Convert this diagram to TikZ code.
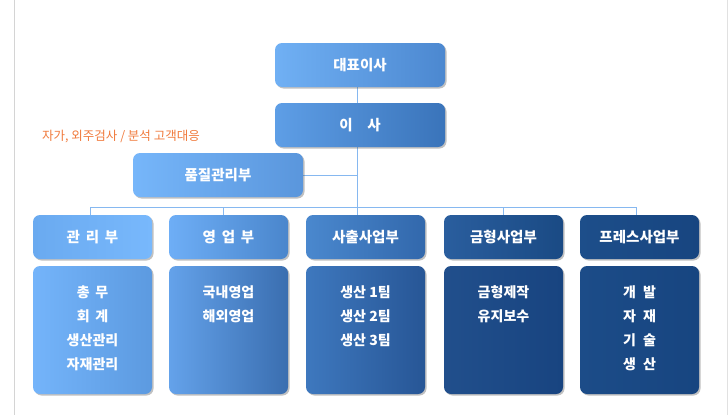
\documentclass[tikz,border=0pt]{standalone}
\usepackage{fontspec}
\setmainfont{Noto Sans CJK KR}
\usetikzlibrary{shadows,backgrounds}
\definecolor{c1a}{HTML}{70B0F4}\definecolor{c1b}{HTML}{4C88D0}
\definecolor{c2a}{HTML}{5E9EE6}\definecolor{c2b}{HTML}{3A74BA}
\definecolor{cqa}{HTML}{76B6FA}\definecolor{cqb}{HTML}{5A96DC}
\definecolor{h1a}{HTML}{6AAAF0}\definecolor{h1b}{HTML}{78B8FC}
\definecolor{l1a}{HTML}{74B4FA}\definecolor{l1b}{HTML}{5C9AE0}
\definecolor{h2a}{HTML}{6EAEF6}\definecolor{h2b}{HTML}{4A86CC}
\definecolor{l2a}{HTML}{64A2EA}\definecolor{l2b}{HTML}{3A6EB0}
\definecolor{h3a}{HTML}{4A88CE}\definecolor{h3b}{HTML}{3268AC}
\definecolor{l3a}{HTML}{3E78BE}\definecolor{l3b}{HTML}{275696}
\definecolor{h4a}{HTML}{2A5E9E}\definecolor{h4b}{HTML}{1A4A84}
\definecolor{l4a}{HTML}{214F8C}\definecolor{l4b}{HTML}{184480}
\definecolor{h5a}{HTML}{1D4E8A}\definecolor{h5b}{HTML}{174580}
\definecolor{l5a}{HTML}{1C4C88}\definecolor{l5b}{HTML}{174580}
\definecolor{linec}{HTML}{86B8F0}
\definecolor{orangec}{HTML}{F07A3C}
\definecolor{borderc}{HTML}{D4D4D4}
\tikzset{
  box/.style 2 args={rounded corners=7pt, inner sep=0pt, left color=#1, right color=#2,
    drop shadow={shadow xshift=1.5pt, shadow yshift=-1.5pt, opacity=0.35, fill=black!70},
    text=white, font=\fontsize{14.5}{17}\selectfont\bfseries},
  topbox/.style 2 args={box={#1}{#2}, minimum width=170pt, minimum height=44pt},
  headbox/.style 2 args={box={#1}{#2}, minimum width=119pt, minimum height=44pt},
  lowbox/.style 2 args={box={#1}{#2}, minimum width=119pt, minimum height=128pt},
  lowtext/.style={anchor=north, inner sep=0pt, align=center, text=white,
    font=\fontsize{14}{24}\selectfont\bfseries},
  conn/.style={draw=linec, line width=1pt},
}
\begin{document}
\begin{tikzpicture}[x=1pt,y=-1pt]
\useasboundingbox (0,0) rectangle (728,415);
\draw[borderc, line width=1pt] (14,0) -- (14,415);
\draw[borderc!70, line width=1pt] (727,0) -- (727,415);

\node[topbox={c1a}{c1b}] (ceo) at (360,65) {대표이사};
\node[topbox={c2a}{c2b}] (dir) at (360,125) {이\hspace{1em}사};
\node[topbox={cqa}{cqb}] (qual) at (218,175) {품질관리부};
\node[anchor=west, inner sep=0pt, text=orangec, font=\fontsize{12.5}{14}\selectfont] (note) at (42,137) {자가, 외주검사 / 분석 고객대응};

\node[headbox={h1a}{h1b}] (h1) at (92.5,237) {관\hspace{0.4em}리\hspace{0.4em}부};
\node[headbox={h2a}{h2b}] (h2) at (228.5,237) {영\hspace{0.4em}업\hspace{0.4em}부};
\node[headbox={h3a}{h3b}] (h3) at (365.5,237) {사출사업부};
\node[headbox={h4a}{h4b}] (h4) at (503.5,237) {금형사업부};
\node[headbox={h5a}{h5b}] (h5) at (639.5,237) {프레스사업부};

\node[lowbox={l1a}{l1b}] (b1) at (92.5,330) {};
\node[lowbox={l2a}{l2b}] (b2) at (228.5,330) {};
\node[lowbox={l3a}{l3b}] (b3) at (365.5,330) {};
\node[lowbox={l4a}{l4b}] (b4) at (503.5,330) {};
\node[lowbox={l5a}{l5b}] (b5) at (639.5,330) {};

\node[lowtext] (t1) at ([yshift=-20pt]b1.north) {총\hspace{0.4em}무\\회\hspace{0.4em}계\\생산관리\\자재관리};
\node[lowtext] (t2) at ([yshift=-20pt]b2.north) {국내영업\\해외영업};
\node[lowtext] (t3) at ([yshift=-20pt]b3.north) {생산 1팀\\생산 2팀\\생산 3팀};
\node[lowtext] (t4) at ([yshift=-20pt]b4.north) {금형제작\\유지보수};
\node[lowtext] (t5) at ([yshift=-20pt]b5.north) {개\hspace{0.5em}발\\자\hspace{0.5em}재\\기\hspace{0.5em}술\\생\hspace{0.5em}산};

\coordinate (spine) at (357,207);
\coordinate (d1) at (90,207);
\coordinate (d2) at (223,207);
\coordinate (d4) at (503,207);
\coordinate (d5) at (636,207);

\begin{pgfonlayer}{background}
\draw[conn] (ceo.south -| spine) -- (spine);
\draw[conn] (qual.east) -- (qual.east -| spine);
\draw[conn] (d1) -- (d5);
\draw[conn] (d1) -- (d1 |- h1.north);
\draw[conn] (d2) -- (d2 |- h2.north);
\draw[conn] (spine) -- (spine |- h3.north);
\draw[conn] (d4) -- (d4 |- h4.north);
\draw[conn] (d5) -- (d5 |- h5.north);
\end{pgfonlayer}
\end{tikzpicture}
\end{document}
